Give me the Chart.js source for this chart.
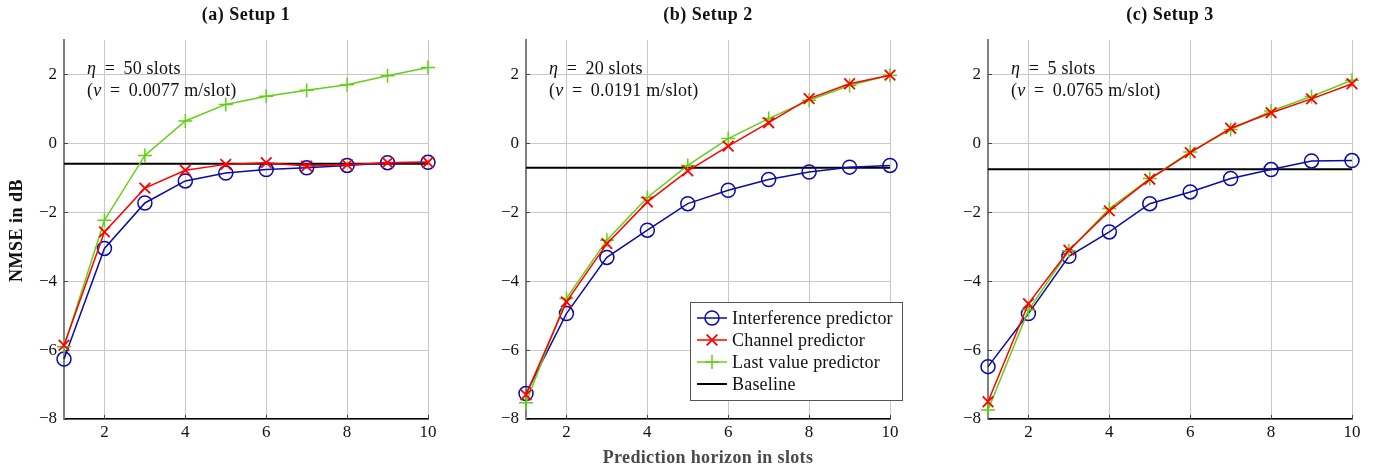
<!DOCTYPE html>
<html>
<head>
<meta charset="utf-8">
<title>NMSE vs prediction horizon</title>
<script src="https://cdn.jsdelivr.net/npm/chart.js@4/dist/chart.umd.min.js"></script>
<style>
  html, body { margin: 0; padding: 0; background: #fff; }
  #wrap { position: relative; width: 1383px; height: 470px; overflow: hidden; }
  #wrap canvas { position: absolute; top: 0; }
</style>
</head>
<body>
<div id="wrap">
  <canvas id="panel0" width="461" height="470" style="left:0px"></canvas>
  <canvas id="panel1" width="461" height="470" style="left:461px"></canvas>
  <canvas id="panel2" width="461" height="470" style="left:922px"></canvas>
</div>
<script>
// ---- data ----
const horizon = [1, 2, 3, 4, 5, 6, 7, 8, 9, 10];
const xTicks = [2, 4, 6, 8, 10];
const yTicks = [-8, -6, -4, -2, 0, 2];

const seriesNames = ['Interference predictor', 'Channel predictor', 'Last value predictor', 'Baseline'];
const panelTitles = ['(a) Setup 1', '(b) Setup 2', '(c) Setup 3'];
const etaSlots = ['50', '20', '5'];
const nuSpeeds = ['0.0077', '0.0191', '0.0765'];
const yAxisTitle = 'NMSE in dB';
const xAxisTitle = 'Prediction horizon in slots';

// Setup 1
const interfA    = [-6.26, -3.05, -1.73, -1.09, -0.86, -0.76, -0.71, -0.64, -0.56, -0.55];
const channelA   = [-5.86, -2.57, -1.30, -0.78, -0.61, -0.56, -0.66, -0.62, -0.56, -0.55];
const lastValA   = [-5.90, -2.23, -0.35, 0.65, 1.13, 1.37, 1.54, 1.70, 1.96, 2.20];
const baselineA  = [-0.59, -0.59, -0.59, -0.59, -0.59, -0.59, -0.59, -0.59, -0.59, -0.59];

// Setup 2
const interfB    = [-7.26, -4.94, -3.31, -2.52, -1.75, -1.36, -1.05, -0.83, -0.69, -0.64];
const channelB   = [-7.30, -4.60, -2.91, -1.70, -0.80, -0.08, 0.60, 1.30, 1.73, 1.98];
const lastValB   = [-7.53, -4.50, -2.81, -1.57, -0.64, 0.14, 0.72, 1.25, 1.68, 1.98];
const baselineB  = [-0.71, -0.71, -0.71, -0.71, -0.71, -0.71, -0.71, -0.71, -0.71, -0.71];

// Setup 3
const interfC    = [-6.48, -4.94, -3.28, -2.57, -1.75, -1.41, -1.02, -0.76, -0.51, -0.50];
const channelC   = [-7.50, -4.65, -3.10, -1.96, -1.04, -0.27, 0.44, 0.89, 1.29, 1.73];
const lastValC   = [-7.74, -4.84, -3.12, -1.89, -1.02, -0.25, 0.40, 0.94, 1.36, 1.83];
const baselineC  = [-0.75, -0.75, -0.75, -0.75, -0.75, -0.75, -0.75, -0.75, -0.75, -0.75];

const panelSeries = [
  [interfA, channelA, lastValA, baselineA],
  [interfB, channelB, lastValB, baselineB],
  [interfC, channelC, lastValC, baselineC]
];

// ---- styling ----
const SERIF = '"Liberation Serif", "Times New Roman", serif';
const COLORS = ['#0a0aa8', '#ff0000', '#62d014', '#000000'];
const POINT_STYLES = ['circle', 'crossRot', 'cross', false];
const POINT_RADII = [7, 7.5, 7, 0];
const DRAW_ORDER = [2, 0, 1, 3];

// plot-area placement inside each panel canvas
const plotLeft = [64, 65, 66];
const plotRight = [428, 429, 430];
const plotTop = 40;
const plotBottom = 419;
const CANVAS_W = 461, CANVAS_H = 470;
const Y_AXIS_W = 50, X_AXIS_H = 30;
const THIN = '\u2009';

function fmtTick(v) {
  return v < 0 ? '\u2212' + Math.abs(v) : String(v);
}

function drawRuns(ctx, runs, x, y, size) {
  runs.forEach(([txt, italic]) => {
    ctx.font = (italic ? 'italic ' : '') + size + 'px ' + SERIF;
    ctx.fillText(txt, x, y);
    x += ctx.measureText(txt).width;
  });
}

function drawMarker(ctx, style, x, y, r) {
  ctx.beginPath();
  if (style === 'circle') {
    ctx.arc(x, y, r, 0, Math.PI * 2);
  } else if (style === 'crossRot') {
    const d = r * Math.SQRT1_2;
    ctx.moveTo(x - d, y - d); ctx.lineTo(x + d, y + d);
    ctx.moveTo(x + d, y - d); ctx.lineTo(x - d, y + d);
  } else if (style === 'cross') {
    ctx.moveTo(x - r, y); ctx.lineTo(x + r, y);
    ctx.moveTo(x, y - r); ctx.lineTo(x, y + r);
  }
  ctx.stroke();
}

function decorPlugin(idx) {
  return {
    id: 'panelDecor' + idx,
    beforeDatasetsDraw(chart) {
      // short inward tick marks on both axes
      const { ctx, chartArea: a, scales: { x, y } } = chart;
      ctx.save();
      ctx.strokeStyle = '#444';
      ctx.lineWidth = 1;
      yTicks.forEach(v => {
        const py = Math.round(y.getPixelForValue(v)) + 0.5;
        ctx.beginPath(); ctx.moveTo(a.left, py); ctx.lineTo(a.left + 4, py); ctx.stroke();
      });
      xTicks.forEach(v => {
        const px = Math.round(x.getPixelForValue(v)) + 0.5;
        ctx.beginPath(); ctx.moveTo(px, a.bottom); ctx.lineTo(px, a.bottom - 4); ctx.stroke();
      });
      ctx.restore();
    },
    afterDraw(chart) {
      const { ctx, chartArea: a } = chart;
      ctx.save();
      const cx = (a.left + a.right) / 2;

      // panel title
      ctx.fillStyle = '#111';
      ctx.letterSpacing = '0.5px';
      ctx.font = 'bold 18px ' + SERIF;
      ctx.textAlign = 'center';
      ctx.textBaseline = 'middle';
      ctx.fillText(panelTitles[idx], cx, 15);

      // axis titles
      if (idx === 0) {
        ctx.save();
        ctx.translate(17, (a.top + a.bottom) / 2 + 1);
        ctx.rotate(-Math.PI / 2);
        ctx.fillText(yAxisTitle, 0, 0);
        ctx.restore();
      }
      if (idx === 1) {
        ctx.fillStyle = '#4a4a4a';
        ctx.letterSpacing = '0.35px';
        ctx.font = 'bold 18px ' + SERIF;
        ctx.fillText(xAxisTitle, cx, 458);
      }

      // setup annotation
      ctx.fillStyle = '#111';
      ctx.textAlign = 'left';
      ctx.letterSpacing = '0.2px';
      const tx = a.left + 23;
      const eq = THIN + ' = ' + THIN;
      drawRuns(ctx, [['\u03B7', true], [eq + etaSlots[idx] + ' slots', false]], tx, a.top + 29, 18);
      drawRuns(ctx, [['(', false], ['\u03BD', true], [eq + nuSpeeds[idx] + ' m/slot)', false]], tx, a.top + 51, 18);

      // legend box (middle panel)
      if (idx === 1) {
        const bx = 229, by = 302, bw = 212, bh = 98;
        ctx.fillStyle = '#fff';
        ctx.fillRect(bx, by, bw, bh);
        ctx.strokeStyle = '#555';
        ctx.lineWidth = 1;
        ctx.strokeRect(bx + 0.5, by + 0.5, bw, bh);
        chart.data.datasets.forEach((ds, i) => {
          const ry = 318 + i * 22;
          ctx.strokeStyle = ds.borderColor;
          ctx.lineWidth = ds.borderWidth;
          ctx.beginPath(); ctx.moveTo(bx + 7, ry); ctx.lineTo(bx + 37, ry); ctx.stroke();
          if (ds.pointStyle) {
            ctx.lineWidth = ds.pointBorderWidth;
            drawMarker(ctx, ds.pointStyle, bx + 22, ry, ds.pointRadius);
          }
          ctx.fillStyle = '#111';
          ctx.letterSpacing = '0.2px';
          ctx.font = '18px ' + SERIF;
          ctx.textBaseline = 'middle';
          ctx.fillText(ds.label, bx + 42, ry + 1);
        });
      }
      ctx.restore();
    }
  };
}

function makePanel(idx) {
  const datasets = panelSeries[idx].map((vals, i) => ({
    label: seriesNames[i],
    data: horizon.map((h, k) => ({ x: h, y: vals[k] })),
    borderColor: COLORS[i],
    backgroundColor: COLORS[i],
    borderWidth: i === 3 ? 2 : 1.5,
    pointStyle: POINT_STYLES[i],
    pointRadius: POINT_RADII[i],
    pointBorderWidth: i === 1 ? 1.8 : 1.5,
    pointBorderColor: COLORS[i],
    pointBackgroundColor: 'rgba(0,0,0,0)',
    pointHoverRadius: POINT_RADII[i],
    tension: 0,
    clip: false,
    order: DRAW_ORDER[i]
  }));

  new Chart(document.getElementById('panel' + idx), {
    type: 'line',
    data: { datasets },
    plugins: [decorPlugin(idx)],
    options: {
      responsive: false,
      animation: false,
      devicePixelRatio: 1,
      events: [],
      layout: {
        padding: {
          left: plotLeft[idx] - Y_AXIS_W,
          right: CANVAS_W - plotRight[idx],
          top: plotTop,
          bottom: CANVAS_H - plotBottom - X_AXIS_H
        }
      },
      plugins: { legend: { display: false }, tooltip: { enabled: false }, title: { display: false } },
      scales: {
        x: {
          type: 'linear',
          min: 1, max: 10,
          afterBuildTicks: s => { s.ticks = xTicks.map(v => ({ value: v })); },
          afterFit: s => { s.height = X_AXIS_H; },
          grid: { color: '#c8c8c8', lineWidth: 1, drawTicks: false },
          border: { color: '#000', width: 1.5 },
          ticks: {
            padding: 3,
            color: '#111',
            font: { family: SERIF, size: 17 },
            maxRotation: 0,
            callback: v => fmtTick(v)
          }
        },
        y: {
          type: 'linear',
          min: -8, max: 3,
          afterBuildTicks: s => { s.ticks = yTicks.map(v => ({ value: v })); },
          afterFit: s => { s.width = Y_AXIS_W; },
          grid: { color: '#c8c8c8', lineWidth: 1, drawTicks: false },
          border: { color: '#808080', width: 2 },
          ticks: {
            padding: 7,
            color: '#111',
            font: { family: SERIF, size: 17 },
            callback: v => fmtTick(v)
          }
        }
      }
    }
  });
}

[0, 1, 2].forEach(makePanel);
</script>
</body>
</html>
